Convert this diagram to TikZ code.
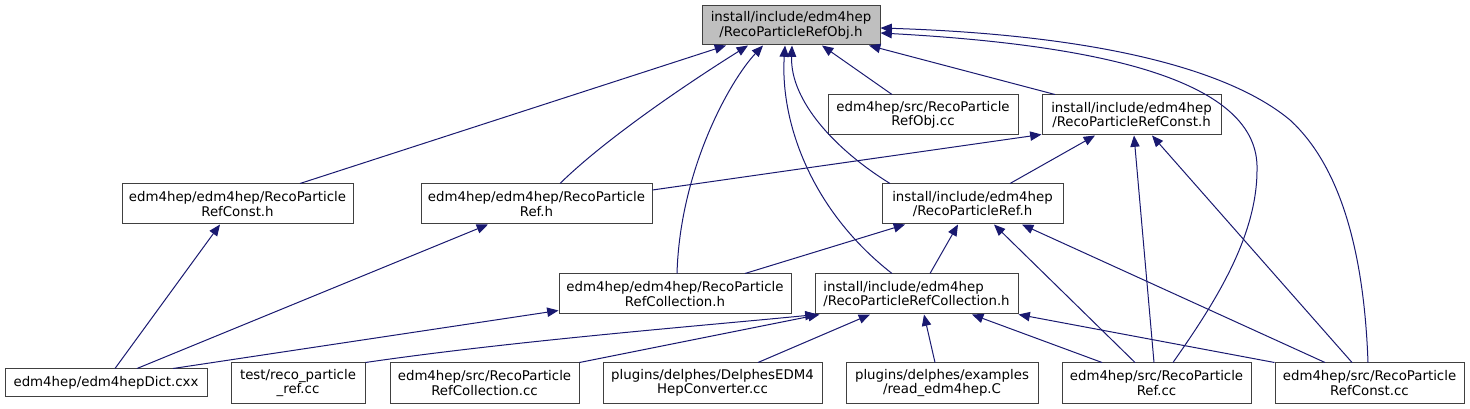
\documentclass[tikz,border=0pt]{standalone}
\usepackage{fontspec}
\setmainfont{DejaVu Sans}
\usetikzlibrary{arrows.meta,calc}
\definecolor{edgeblue}{HTML}{191970}
\definecolor{rootgray}{HTML}{BFBFBF}
\begin{document}
\begin{tikzpicture}[x=0.75pt,y=-0.75pt,
  box/.style={draw=black!75, line width=0.75pt, fill=white, inner sep=0pt,
    align=center, minimum height=30pt, font=\fontsize{10}{10.8}\selectfont},
  wd/.style={minimum width={#1*0.75pt}},
  edge/.style={draw=edgeblue, line width=0.75pt, -{Triangle[length=8.5pt,width=7pt]}}]
\useasboundingbox (0,0) rectangle (1470,409);

% nodes
\node[box, wd=178, fill=rootgray, minimum height=29.25pt] (top) at (791,25.5) {install/include/edm4hep\\/RecoParticleRefObj.h};
\node[box, wd=190] (robj) at (923,115) {edm4hep/src/RecoParticle\\RefObj.cc};
\node[box, wd=179] (iconst) at (1131.5,115) {install/include/edm4hep\\/RecoParticleRefConst.h};
\node[box, wd=231] (econst) at (237.5,204) {edm4hep/edm4hep/RecoParticle\\RefConst.h};
\node[box, wd=231] (eref) at (536.5,204) {edm4hep/edm4hep/RecoParticle\\Ref.h};
\node[box, wd=181] (iref) at (972.5,204) {install/include/edm4hep\\/RecoParticleRef.h};
\node[box, wd=232] (ecoll) at (675,294) {edm4hep/edm4hep/RecoParticle\\RefCollection.h};
\node[box, wd=203, align=left] (icoll) at (916.5,294) {install/include/edm4hep\\/RecoParticleRefCollection.h};
\node[box, wd=202, minimum height=20.25pt] (dict) at (106,382.5) {edm4hep/edm4hepDict.cxx};
\node[box, wd=134] (test) at (298,383) {test/reco\_particle\\\_ref.cc};
\node[box, wd=189] (colcc) at (484.5,383) {edm4hep/src/RecoParticle\\RefCollection.cc};
\node[box, wd=219] (delphes) at (712.5,383) {plugins/delphes/DelphesEDM4\\HepConverter.cc};
\node[box, wd=192] (read) at (942,383) {plugins/delphes/examples\\/read\_edm4hep.C};
\node[box, wd=189] (refcc) at (1156.5,383) {edm4hep/src/RecoParticle\\Ref.cc};
\node[box, wd=189] (constcc) at (1369.5,383) {edm4hep/src/RecoParticle\\RefConst.cc};

\coordinate (b8) at (1257,170);
\coordinate (b9) at (1290,120);

% edges into the root
\draw[edge] ($(econst.north)+(62.5,0)$) -- ($(top.south)+(-65,0)$);
\draw[edge] ($(eref.north)+(23.5,0)$) .. controls +(50,-49) and +(-48,30) .. ($(top.south)+(-43,0)$);
\draw[edge] ($(ecoll.north)+(2,0)$) .. controls +(3,-104) and +(-33,35) .. ($(top.south)+(-28,0)$);
\draw[edge] ($(icoll.north)+(-24.5,0)$) .. controls +(-82,-64) and +(-5,75) .. ($(top.south)+(-6,0)$);
\draw[edge] ($(iref.north)+(-82.5,0)$) .. controls +(-55,-34) and +(-2,55) .. ($(top.south)+(1,0)$);
\draw[edge] ($(robj.north)+(-31,0)$) -- ($(top.south)+(31,0)$);
\draw[edge] ($(iconst.north)+(-76.5,0)$) -- ($(top.south)+(78,0)$);
\draw[edge] ($(refcc.north)+(16.5,0)$) .. controls +(37,-53) and +(0,70) .. (b8)
   .. controls +(3,-90) and +(220,12) .. ($(top.east)+(0,7.5)$);
\draw[edge] ($(constcc.north)+(-1.5,0)$) .. controls +(-3,-83) and +(60,55) .. (b9)
   .. controls +(-60,-50) and +(220,7) .. ($(top.east)+(0,2.5)$);

% edges into install RefConst.h
\draw[edge] ($(eref.east)+(0,-14)$) -- ($(iconst.south west)+(0,-1)$);
\draw[edge] ($(iref.north)+(37.5,0)$) -- ($(iconst.south)+(-36.5,0)$);
\draw[edge] ($(refcc.north)+(-2.5,0)$) -- ($(iconst.south)+(2.5,0)$);
\draw[edge] ($(constcc.north)+(-17.5,0)$) -- ($(iconst.south)+(20.5,0)$);

% edges into install Ref.h
\draw[edge] ($(ecoll.north)+(70,0)$) -- ($(iref.south)+(-67.5,0)$);
\draw[edge] ($(icoll.north)+(13.5,0)$) -- ($(iref.south)+(-14.5,0)$);
\draw[edge] ($(refcc.north)+(-21.5,0)$) -- ($(iref.south)+(21.5,0)$);
\draw[edge] ($(constcc.north)+(-44.5,0)$) -- ($(iref.south)+(49.5,0)$);

% edges from the dictionary
\draw[edge] ($(dict.north)+(9,0)$) -- ($(econst.south)+(-17.5,0)$);
\draw[edge] ($(dict.north)+(31,0)$) -- ($(eref.south)+(-48.5,0)$);
\draw[edge] ($(dict.north)+(67,0)$) -- ($(ecoll.south west)+(0,-4)$);

% edges into install RefCollection.h
\draw[edge] (test.north east) .. controls +(150,-22) and +(-100,10) .. ($(icoll.south west)+(2,0)$);
\draw[edge] (colcc.north east) -- ($(icoll.south west)+(5,0)$);
\draw[edge] ($(delphes.north)+(45.5,0)$) -- ($(icoll.south)+(-46.5,0)$);
\draw[edge] ($(read.north)+(-7,0)$) -- ($(icoll.south)+(7.5,0)$);
\draw[edge] ($(refcc.north)+(-54.5,0)$) -- ($(icoll.south)+(55.5,0)$);
\draw[edge] (constcc.north west) -- (icoll.south east);
\end{tikzpicture}
\end{document}
